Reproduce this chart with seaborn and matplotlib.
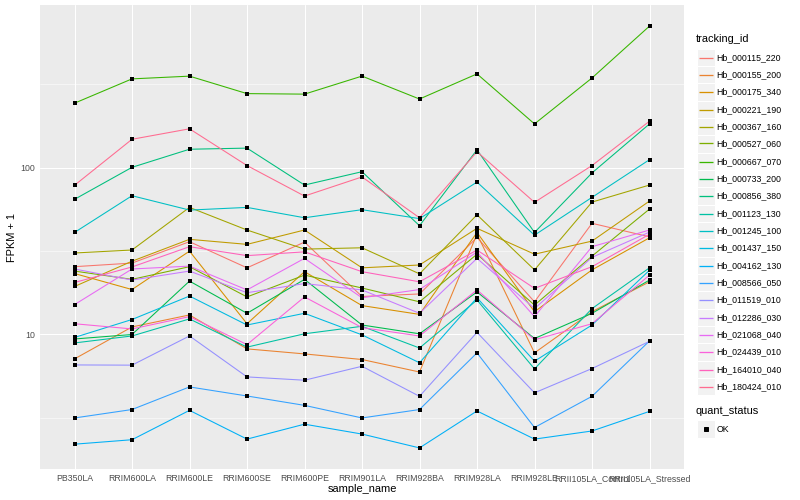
import numpy as np
import pandas as pd
import matplotlib
matplotlib.use("Agg")
import matplotlib.pyplot as plt
import seaborn as sns
from matplotlib.patches import Rectangle
from matplotlib.lines import Line2D
from matplotlib.ticker import NullFormatter, NullLocator

# ---------------- data ----------------
samples = ["PB350LA", "RRIM600LA", "RRIM600LE", "RRIM600SE", "RRIM600PE",
           "RRIM901LA", "RRIM928BA", "RRIM928LA", "RRIM928LE",
           "RRII105LA_Control", "RRII105LA_Stressed"]

tracking_ids = ["Hb_000115_220", "Hb_000155_200", "Hb_000175_340", "Hb_000221_190",
                "Hb_000367_160", "Hb_000527_060", "Hb_000667_070", "Hb_000733_200",
                "Hb_000856_380", "Hb_001123_130", "Hb_001245_100", "Hb_001437_150",
                "Hb_004162_130", "Hb_008566_050", "Hb_011519_010", "Hb_012286_030",
                "Hb_021068_040", "Hb_024439_010", "Hb_164010_040", "Hb_180424_010"]

hb_000115_220 = [25.5, 26.8, 36.0, 25.1, 35.8, 16.9, 17.5, 38.2, 15.7, 46.4, 38.5]
hb_000155_200 = [7.14, 11.1, 13.1, 8.2, 7.65, 7.08, 5.96, 40.0, 7.76, 13.7, 20.7]
hb_000175_340 = [23.2, 18.6, 31.6, 11.6, 23.8, 14.9, 13.2, 40.9, 13.7, 24.4, 38.0]
hb_000221_190 = [19.4, 27.5, 37.2, 34.7, 42.3, 25.1, 26.1, 43.3, 30.3, 36.3, 63.1]
hb_000367_160 = [30.8, 32.1, 57.8, 42.3, 32.5, 33.1, 23.1, 52.2, 24.4, 62.2, 78.7]
hb_000527_060 = [24.0, 21.4, 25.5, 16.8, 22.7, 19.0, 15.7, 30.3, 15.0, 29.5, 56.5]
hb_000667_070 = [243.6, 340.7, 353.8, 278.0, 276.0, 354.0, 258.0, 365.0, 183.0, 345.0, 706.0]
hb_000733_200 = [9.4, 10.0, 20.9, 13.4, 21.4, 11.4, 10.1, 18.0, 9.46, 13.4, 21.2]
hb_000856_380 = [64.6, 100.5, 129.0, 131.0, 78.7, 94.6, 44.9, 128.0, 40.9, 93.0, 183.0]
hb_001123_130 = [8.9, 9.8, 12.4, 8.4, 10.1, 11.2, 8.3, 16.1, 6.22, 14.3, 25.1]
hb_001245_100 = [40.9, 67.9, 55.7, 57.8, 50.1, 56.0, 49.5, 82.0, 39.4, 66.4, 111.7]
hb_001437_150 = [9.6, 12.3, 17.0, 11.4, 13.4, 9.95, 6.77, 16.6, 6.92, 11.4, 24.3]
hb_004162_130 = [2.2, 2.34, 3.51, 2.36, 2.9, 2.53, 2.09, 3.48, 2.36, 2.64, 3.46]
hb_008566_050 = [3.16, 3.55, 4.85, 4.28, 3.76, 3.16, 3.55, 7.76, 2.77, 4.26, 9.15]
hb_011519_010 = [6.57, 6.55, 9.8, 5.57, 5.32, 6.45, 4.26, 10.3, 4.47, 6.25, 9.1]
hb_012286_030 = [24.7, 21.2, 24.0, 17.8, 20.2, 18.5, 13.4, 28.6, 14.3, 29.0, 41.1]
hb_021068_040 = [15.1, 24.7, 25.7, 18.5, 28.6, 16.6, 18.6, 31.2, 12.8, 33.6, 42.3]
hb_024439_010 = [11.6, 10.8, 12.8, 8.7, 16.8, 11.0, 9.8, 18.5, 9.3, 11.6, 22.7]
hb_164010_040 = [20.5, 25.4, 33.6, 29.7, 31.3, 23.8, 20.7, 32.1, 18.9, 25.5, 39.9]
hb_180424_010 = [78.4, 148.0, 171.0, 103.0, 67.6, 88.0, 50.1, 124.7, 62.0, 103.0, 190.0]

series_values = [hb_000115_220, hb_000155_200, hb_000175_340, hb_000221_190,
                 hb_000367_160, hb_000527_060, hb_000667_070, hb_000733_200,
                 hb_000856_380, hb_001123_130, hb_001245_100, hb_001437_150,
                 hb_004162_130, hb_008566_050, hb_011519_010, hb_012286_030,
                 hb_021068_040, hb_024439_010, hb_164010_040, hb_180424_010]

quant_levels = ["OK"]

# ggplot2 default hue palette (20 levels)
colors = ["#F8766D", "#EA8331", "#D89000", "#C09B00", "#A3A500", "#7CAE00",
          "#39B600", "#00BB4E", "#00BF7D", "#00C1A3", "#00BFC4", "#00BAE0",
          "#00B0F6", "#35A2FF", "#9590FF", "#C77CFF", "#E76BF3", "#FA62DB",
          "#FF62BC", "#FF6C91"]

rows = []
for tid, vals in zip(tracking_ids, series_values):
    for s, v in zip(samples, vals):
        rows.append({"sample_name": s, "tracking_id": tid, "fpkm1": v,
                     "quant_status": quant_levels[0]})
df = pd.DataFrame(rows)
df["xpos"] = df["sample_name"].map({s: i for i, s in enumerate(samples)})

# ---------------- style ----------------
sns.set_theme(style="white")
plt.rcParams["font.family"] = ["Liberation Sans", "DejaVu Sans"]

W, H = 800, 500
fig = plt.figure(figsize=(W / 72, H / 72), dpi=72)
fig.patch.set_facecolor("white")

pl, pr, pt, pb = 40, 684, 5, 469
ax = fig.add_axes([pl / W, 1 - pb / H, (pr - pl) / W, (pb - pt) / H])
ax.set_facecolor("#EBEBEB")

sns.lineplot(data=df, x="xpos", y="fpkm1", hue="tracking_id",
             hue_order=tracking_ids, palette=colors, linewidth=1.07,
             estimator=None, sort=False, legend=False, ax=ax, zorder=2)
sns.scatterplot(data=df, x="xpos", y="fpkm1", color="black", marker="s",
                s=19, linewidth=0, legend=False, ax=ax, zorder=3)

ax.set_yscale("log")
lo = np.log10(df["fpkm1"].min())
hi = np.log10(df["fpkm1"].max())
pad = (hi - lo) * 0.05
ax.set_ylim(10 ** (lo - pad), 10 ** (hi + pad))
ax.set_xlim(-0.6, len(samples) - 1 + 0.6)

ax.set_xticks(range(len(samples)))
ax.set_xticklabels(samples)
ax.xaxis.set_minor_locator(NullLocator())
ax.set_yticks([10, 100])
ax.set_yticklabels(["10", "100"])
ax.set_yticks([10 ** 0.5, 10 ** 1.5, 10 ** 2.5], minor=True)
ax.yaxis.set_minor_formatter(NullFormatter())

ax.grid(which="major", color="white", linewidth=1.07)
ax.grid(which="minor", axis="y", color="white", linewidth=0.53)
ax.set_axisbelow(True)
for sp in ax.spines.values():
    sp.set_visible(False)

ax.tick_params(which="major", length=2.75, width=1.07, color="#333333",
               labelcolor="#4D4D4D", labelsize=8.8, pad=2.2)
ax.tick_params(which="minor", length=0)

ax.set_xlabel("sample_name", fontsize=11, color="black", labelpad=0.8)
ax.set_ylabel("FPKM + 1", fontsize=11, color="black", labelpad=3.2)

# ---------------- legend (ggplot style) ----------------
def fx(x):
    return x / W

def fy(y):
    return 1 - y / H

def snap(y):
    # put a thin line on a pixel centre so it stays crisp
    return np.floor(y) + 0.5

fig.text(fx(696), fy(39.5), "tracking_id", fontsize=11, color="black",
         ha="left", va="center")
key = 17.28
kx0 = 697.3
y0 = 57.3
for i, (tid, col) in enumerate(zip(tracking_ids, colors)):
    yc = y0 + i * 17.33
    fig.add_artist(Rectangle((fx(kx0), fy(yc + key / 2)), key / W, key / H,
                             transform=fig.transFigure, facecolor="#F2F2F2",
                             edgecolor="white", linewidth=1.0, zorder=1))
    ys = snap(yc)
    fig.add_artist(Line2D([fx(kx0 + 1.7), fx(kx0 + key - 1.7)], [fy(ys), fy(ys)],
                          transform=fig.transFigure, color=col, linewidth=1.3,
                          solid_capstyle="butt", zorder=3))
    fig.text(fx(716.7), fy(yc), tid, fontsize=8.8, color="black",
             ha="left", va="center")

fig.text(fx(696), fy(411.5), "quant_status", fontsize=11, color="black",
         ha="left", va="center")
yc = 429.0
fig.add_artist(Rectangle((fx(kx0), fy(yc + key / 2)), key / W, key / H,
                         transform=fig.transFigure, facecolor="#F2F2F2",
                         edgecolor="white", linewidth=1.0, zorder=1))
fig.add_artist(Line2D([fx(kx0 + key / 2)], [fy(yc)], transform=fig.transFigure,
                      marker="s", markersize=4.4, color="black", linewidth=0,
                      zorder=3))
fig.text(fx(716.7), fy(yc), quant_levels[0], fontsize=8.8, color="black",
         ha="left", va="center")

fig.savefig("out.png", dpi=72, facecolor="white")
